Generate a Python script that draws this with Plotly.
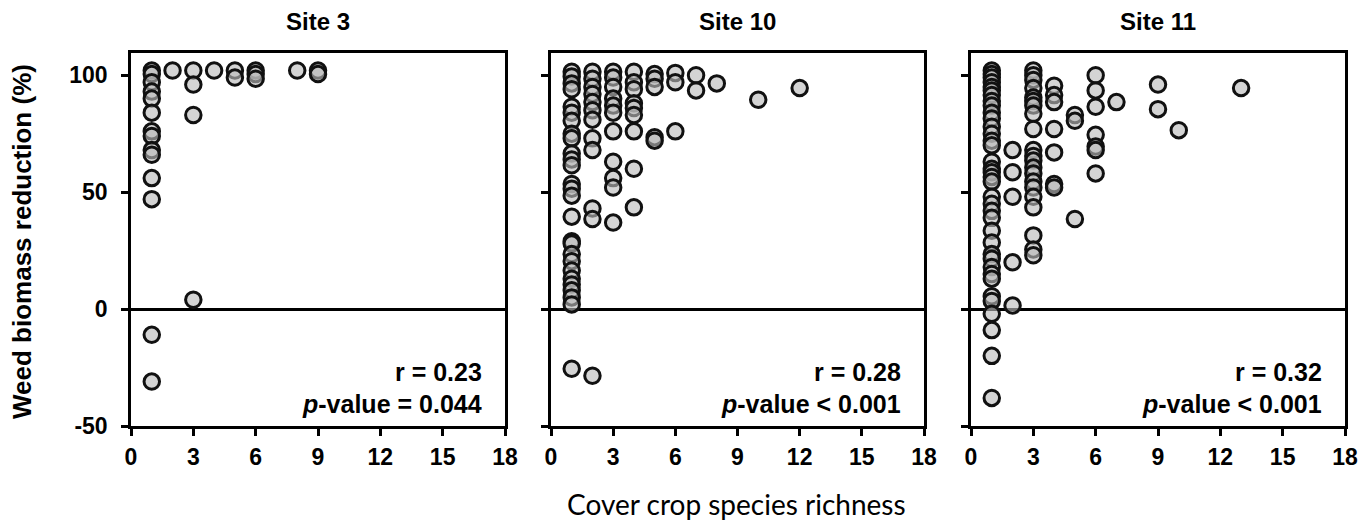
import plotly.graph_objects as go

# ---------------- data ----------------
site_titles = ["Site 3", "Site 10", "Site 11"]
r_labels = ["r = 0.23", "r = 0.28", "r = 0.32"]
p_labels = ["<i>p</i>-value = 0.044", "<i>p</i>-value &lt; 0.001", "<i>p</i>-value &lt; 0.001"]
x_ticks = [0, 3, 6, 9, 12, 15, 18]
y_ticks = [-50, 0, 50, 100]
y_tick_text = ["-50", "0", "50", "100"]

site3_richness = [1, 1, 1, 1, 1, 1, 1, 1, 1, 1, 1, 1, 1, 1,
                  2, 3, 3, 3, 3, 4, 5, 5, 6, 6, 6, 8, 9, 9]
site3_reduction = [102, 100.5, 97, 93, 90, 84, 76, 74, 68, 66, 56, 47, -11, -31,
                   102, 102, 96, 83, 4, 102, 102, 99, 102, 100.5, 98.5, 102, 102, 100.5]

site10_richness = [1] * 27 + [2] * 12 + [3] * 11 + [4] * 9 + [5] * 5 + [6] * 3 + [7] * 2 + [8, 10, 12]
site10_reduction = [101.5, 99.5, 96.5, 94, 86.5, 84, 80.5, 75, 73, 66.5, 64, 61.5, 53.5, 51.5, 48.5,
                    39.5, 29, 28, 23.5, 20.5, 16.5, 13, 10.5, 8, 5, 2, -25.5,
                    101.5, 98.5, 95, 92, 88.5, 85, 81, 73, 68, 43, 38.5, -28.5,
                    101.5, 99, 95, 90, 87, 84, 76, 63, 56, 52, 37,
                    101.5, 97, 94, 88, 86, 83, 76, 60, 43.5,
                    100.5, 98.5, 95, 73.5, 72,
                    101, 97, 76,
                    100, 93.5,
                    96.5, 89.5, 94.5]

site11_richness = [1] * 37 + [2] * 5 + [3] * 21 + [4] * 7 + [5] * 3 + [6] * 7 + [7, 9, 9, 10, 13]
site11_reduction = [102, 100.5, 99, 97, 95, 93.5, 91.5, 89, 87, 84, 81.5, 78, 75, 72, 70,
                    63, 60, 58.5, 56.5, 54.5, 48, 45, 42, 39, 33.5, 28.5, 23.5, 21.5, 18,
                    15, 13, 5.5, 3.5, -2, -9, -20, -38,
                    68, 58.5, 48, 20, 1.5,
                    102, 100, 98, 94.5, 90.5, 89, 87, 83.5, 77, 68, 65.5, 63.5, 60.5, 58, 54.5,
                    52, 48, 43.5, 31.5, 25.5, 23,
                    95.5, 91.5, 88.5, 77, 67, 53.5, 52,
                    83, 80.5, 38.5,
                    100, 93.5, 86.5, 74.5, 69.5, 68, 58,
                    88.5, 96, 85.5, 76.5, 94.5]

richness = [site3_richness, site10_richness, site11_richness]
reduction = [site3_reduction, site10_reduction, site11_reduction]

# ---------------- figure ----------------
# the page body has an 8 px margin; lay the figure out in page pixels minus that offset
OFF = 8
W, H = 1372 - OFF, 521 - OFF


def fx(px):
    return (px - OFF) / W


def fy(py):
    return (H - (py - OFF)) / H


x_domains = [[fx(131), fx(505)], [fx(551), fx(924)], [fx(971), fx(1345)]]
y_domain = [fy(426), fy(53)]

SANS = "Liberation Sans, Arial, sans-serif"

fig = go.Figure()
for i in range(3):
    sfx = "" if i == 0 else str(i + 1)
    fig.add_trace(go.Scatter(
        x=richness[i], y=reduction[i], mode="markers",
        xaxis="x" + sfx, yaxis="y" + sfx,
        marker=dict(size=15.5, color="rgba(185,185,185,0.62)",
                    line=dict(color="#111111", width=3)),
        showlegend=False, hoverinfo="skip"))

    axis_common = dict(showline=True, linecolor="black", linewidth=2.5, mirror=True,
                       showgrid=False, ticks="outside", ticklen=7, tickwidth=2.5,
                       tickcolor="black", automargin=False)
    fig.layout["xaxis" + sfx] = dict(
        domain=x_domains[i], range=[0, 18], tickvals=x_ticks, anchor="y" + sfx,
        zeroline=False, ticklabelstandoff=2,
        tickfont=dict(family=SANS, size=23, color="black", weight="bold"),
        **axis_common)
    fig.layout["yaxis" + sfx] = dict(
        domain=y_domain, range=[-50, 109.5], tickvals=y_ticks, ticktext=y_tick_text,
        anchor="x" + sfx, ticklabelstandoff=9,
        zeroline=True, zerolinecolor="black", zerolinewidth=2.5,
        showticklabels=(i == 0),
        tickfont=dict(family=SANS, size=23, color="black", weight="bold"),
        **axis_common)

    cx = (x_domains[i][0] + x_domains[i][1]) / 2
    fig.add_annotation(x=cx, y=fy(21), xref="paper", yref="paper",
                       text=site_titles[i], showarrow=False, xanchor="center", yanchor="middle",
                       font=dict(family=SANS, size=24, color="black", weight="bold"))
    fig.add_annotation(x=1 - 21 / 374, y=(426 - 372) / 373, xref="x" + sfx + " domain",
                       yref="y" + sfx + " domain", text=r_labels[i], showarrow=False,
                       xanchor="right", yanchor="middle",
                       font=dict(family=SANS, size=25, color="black", weight="bold"))
    fig.add_annotation(x=1 - 21 / 374, y=(426 - 404) / 373, xref="x" + sfx + " domain",
                       yref="y" + sfx + " domain", text=p_labels[i], showarrow=False,
                       xanchor="right", yanchor="middle",
                       font=dict(family=SANS, size=25, color="black", weight="bold"))

fig.add_annotation(x=fx(22), y=fy(242), xref="paper", yref="paper",
                   text="Weed biomass reduction (%)", textangle=-90, showarrow=False,
                   xanchor="center", yanchor="middle",
                   font=dict(family=SANS, size=26, color="black", weight="bold"))
fig.add_annotation(x=fx(736), y=fy(504), xref="paper", yref="paper",
                   text="Cover crop species richness", showarrow=False,
                   xanchor="center", yanchor="middle",
                   font=dict(family="Lato, Open Sans, sans-serif", size=28, color="black"))

fig.update_layout(width=W, height=H, margin=dict(l=0, r=0, t=0, b=0),
                  paper_bgcolor="white", plot_bgcolor="white")

fig.write_html("out.html")
